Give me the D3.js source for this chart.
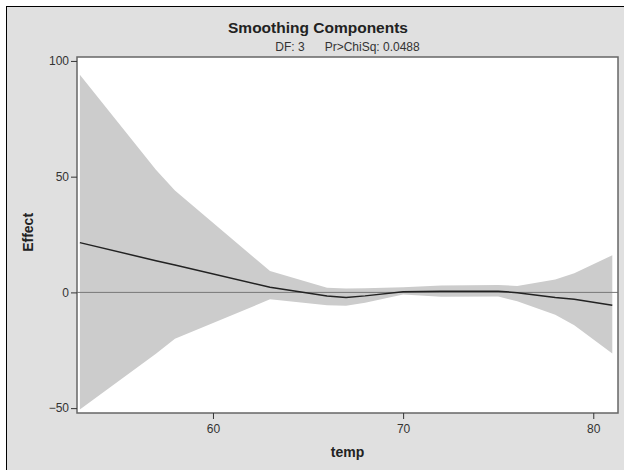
<!DOCTYPE html>
<meta charset="utf-8">
<style>
body { margin: 0; background: #fff; }
svg text { font-family: "Liberation Sans", Arial, sans-serif; fill: #222; }
.tick text { font-size: 12px; fill: #333; }
.tick line { stroke: #333; }
.domain { display: none; }
</style>
<body>
<script src="https://d3js.org/d3.v7.min.js"></script>
<script>
// temp values and the smoothing component with its confidence band
var temps = [53, 57, 58, 63, 66, 67, 68, 70, 72, 75, 76, 78, 79, 81];
var effect = [21.5, 13.7, 11.8, 2.2, -1.6, -2.2, -1.5, 0.3, 0.5, 0.5, -0.1, -2.2, -3.0, -5.5];
var upper = [94, 53, 44, 9.2, 2.0, 1.7, 1.8, 2.2, 3.0, 3.2, 2.8, 5.6, 8.3, 16.1];
var lower = [-50.6, -26.5, -20, -3.0, -5.5, -5.8, -4.5, -0.9, -1.9, -1.8, -3.8, -9.6, -14.2, -26.4];
var xTicks = [60, 70, 80];
var yTicks = [-50, 0, 50, 100];

var W = 624, H = 470;
var margin = {top: 57, right: 6, bottom: 57, left: 77};
var width = 618 - margin.left, height = 413 - margin.top;

var svg = d3.select("body").append("svg")
    .attr("width", W).attr("height", H);

// gray panel with black frame
svg.append("rect")
    .attr("x", 6.5).attr("y", 6.5)
    .attr("width", W).attr("height", H)
    .attr("fill", "#e0e0e0").attr("stroke", "#000").attr("stroke-width", 1);

var g = svg.append("g")
    .attr("transform", "translate(" + margin.left + "," + margin.top + ")");

var x = d3.scaleLinear().domain([52.85, 81.3]).range([0, width]);
var y = d3.scaleLinear().domain([-52.1, 101.7]).range([height, 0]);

g.append("rect")
    .attr("width", width).attr("height", height)
    .attr("fill", "#fff");

var rows = temps.map(function(t, i) {
    return {t: t, e: effect[i], u: upper[i], l: lower[i]};
});

// confidence band
g.append("path")
    .datum(rows)
    .attr("fill", "#cccccc")
    .attr("d", d3.area()
        .x(function(d) { return x(d.t); })
        .y0(function(d) { return y(d.l); })
        .y1(function(d) { return y(d.u); }));

// zero reference line
g.append("line")
    .attr("x1", 0).attr("x2", width)
    .attr("y1", y(0)).attr("y2", y(0))
    .attr("stroke", "#777").attr("stroke-width", 1);

// the fitted component
g.append("path")
    .datum(rows)
    .attr("fill", "none")
    .attr("stroke", "#222")
    .attr("stroke-width", 1.5)
    .attr("d", d3.line()
        .x(function(d) { return x(d.t); })
        .y(function(d) { return y(d.e); }));

// plot frame
g.append("rect")
    .attr("width", width).attr("height", height)
    .attr("fill", "none").attr("stroke", "#666").attr("stroke-width", 1.5);

g.append("g")
    .attr("transform", "translate(0," + height + ")")
    .call(d3.axisBottom(x).tickValues(xTicks).tickSize(6).tickPadding(5).tickFormat(d3.format("d")));

g.append("g")
    .call(d3.axisLeft(y).tickValues(yTicks).tickSize(6).tickPadding(2).tickFormat(d3.format("d")));

// titles
svg.append("text")
    .attr("x", 318).attr("y", 33)
    .attr("text-anchor", "middle")
    .style("font-size", "15.5px").style("font-weight", "bold")
    .text("Smoothing Components");

svg.append("text")
    .attr("x", 347.5).attr("y", 51)
    .attr("text-anchor", "middle")
    .style("font-size", "12px").style("white-space", "pre").style("fill", "#333")
    .text("DF: 3      Pr>ChiSq: 0.0488");

svg.append("text")
    .attr("x", margin.left + width / 2).attr("y", 457)
    .attr("text-anchor", "middle")
    .style("font-size", "14px").style("font-weight", "bold")
    .text("temp");

svg.append("text")
    .attr("transform", "translate(33," + (margin.top + y(0) - 60) + ") rotate(-90)")
    .attr("text-anchor", "middle")
    .style("font-size", "14px").style("font-weight", "bold")
    .text("Effect");
</script>
</body>
